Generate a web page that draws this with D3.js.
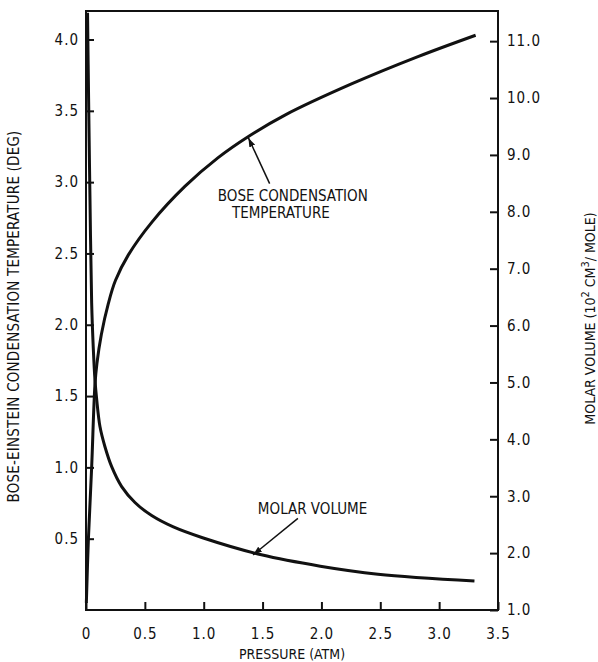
<!DOCTYPE html>
<html>
<head>
<meta charset="utf-8">
<script src="https://cdn.jsdelivr.net/npm/d3@7"></script>
<style>
  body { margin: 0; background: #fff; }
  svg { display: block; }
  text { font-family: "DejaVu Sans Condensed", "Liberation Sans Narrow", "Roboto Condensed", sans-serif; fill: #111; }
</style>
</head>
<body>
<div id="chart"></div>
<script>
// pressure (atm) vs Bose condensation temperature (deg)
var bosePressure = [0.003, 0.02, 0.048, 0.076, 0.093, 0.13, 0.19, 0.25, 0.36, 0.56, 0.84, 1.12, 1.38, 1.69, 2.26, 2.82, 3.31];
var boseTemp     = [0.05, 0.49, 1.0, 1.58, 1.73, 1.93, 2.15, 2.31, 2.49, 2.72, 2.97, 3.17, 3.32, 3.47, 3.69, 3.88, 4.03];

// pressure (atm) vs molar volume (10^2 cm^3/mole)
var volPressure = [0.013, 0.022, 0.034, 0.048, 0.062, 0.076, 0.09, 0.119, 0.161, 0.218, 0.303, 0.416, 0.558, 0.742, 0.99, 1.49, 1.99, 2.48, 3.30];
var molarVolume = [11.5, 10.0, 8.2, 6.4, 5.6, 5.05, 4.72, 4.22, 3.87, 3.52, 3.17, 2.89, 2.66, 2.46, 2.27, 1.97, 1.77, 1.63, 1.51];

var pressureTicks = [0, 0.5, 1.0, 1.5, 2.0, 2.5, 3.0, 3.5];
var tempTicks = [0.5, 1.0, 1.5, 2.0, 2.5, 3.0, 3.5, 4.0];
var volumeTicks = [1, 2, 3, 4, 5, 6, 7, 8, 9, 10, 11];

var margin = {left: 86, right: 100, top: 11, bottom: 52};
var width = 598 - margin.left - margin.right;
var height = 662 - margin.top - margin.bottom;

var svg = d3.select("#chart").append("svg")
    .attr("width", 598)
    .attr("height", 662)
  .append("g")
    .attr("transform", "translate(" + margin.left + "," + margin.top + ")");

var xScale = d3.scaleLinear().domain([0, 3.5]).range([0, width]);
var tScale = d3.scaleLinear().domain([0, 4.2]).range([height, 0]);
var vScale = d3.scaleLinear().domain([1, 11.53]).range([height, 0]);

var fmt = d3.format(".1f");

// axes, ticks point inward
var xAxis = svg.append("g")
    .attr("transform", "translate(0," + height + ")")
    .call(d3.axisBottom(xScale).tickValues(pressureTicks)
      .tickSizeInner(-8).tickSizeOuter(0).tickPadding(18)
      .tickFormat(d => d === 0 ? "0" : fmt(d)));
var lAxis = svg.append("g")
    .call(d3.axisLeft(tScale).tickValues(tempTicks)
      .tickSizeInner(-8).tickSizeOuter(0).tickPadding(7).tickFormat(fmt));
var rAxis = svg.append("g")
    .attr("transform", "translate(" + width + ",0)")
    .call(d3.axisRight(vScale).tickValues(volumeTicks)
      .tickSizeInner(-8).tickSizeOuter(0).tickPadding(9).tickFormat(fmt));

[xAxis, lAxis, rAxis].forEach(function(a){
  a.select(".domain").remove();
  a.selectAll("line").attr("stroke", "#111").attr("stroke-width", 2);
  a.selectAll("text").attr("font-size", 15).attr("fill", "#111").attr("letter-spacing", 1);
});

// frame
svg.append("rect")
    .attr("x", 0).attr("y", 0)
    .attr("width", width).attr("height", height)
    .attr("fill", "none")
    .attr("stroke", "#111")
    .attr("stroke-width", 2);

var boseData = bosePressure.map((p, i) => ({p: p, v: boseTemp[i]}));
var volData = volPressure.map((p, i) => ({p: p, v: molarVolume[i]}));

var boseLine = d3.line()
    .x(d => xScale(d.p))
    .y(d => tScale(d.v))
    .curve(d3.curveCatmullRom.alpha(0.5));
var volLine = d3.line()
    .x(d => xScale(d.p))
    .y(d => vScale(d.v))
    .curve(d3.curveCatmullRom.alpha(0.5));

svg.append("path")
    .datum(boseData)
    .attr("d", boseLine)
    .attr("fill", "none")
    .attr("stroke", "#111")
    .attr("stroke-width", 3);
svg.append("path")
    .datum(volData)
    .attr("d", volLine)
    .attr("fill", "none")
    .attr("stroke", "#111")
    .attr("stroke-width", 3);

// arrowhead
svg.append("defs").append("marker")
    .attr("id", "arrow")
    .attr("viewBox", "0 0 10 10")
    .attr("refX", 10).attr("refY", 5)
    .attr("markerWidth", 9).attr("markerHeight", 9)
    .attr("markerUnits", "userSpaceOnUse")
    .attr("orient", "auto")
  .append("path")
    .attr("d", "M0,1.5 L10,5 L0,8.5 Z")
    .attr("fill", "#111");

// annotation: bose condensation temperature
svg.append("line")
    .attr("x1", xScale(1.56)).attr("y1", tScale(2.99))
    .attr("x2", xScale(1.38)).attr("y2", tScale(3.31))
    .attr("stroke", "#111").attr("stroke-width", 1.5)
    .attr("marker-end", "url(#arrow)");
svg.append("text")
    .attr("x", xScale(1.12)).attr("y", tScale(2.87))
    .attr("font-size", 15)
    .text("BOSE CONDENSATION");
svg.append("text")
    .attr("x", xScale(1.24)).attr("y", tScale(2.75))
    .attr("font-size", 15)
    .text("TEMPERATURE");

// annotation: molar volume
svg.append("line")
    .attr("x1", xScale(1.80)).attr("y1", vScale(2.61))
    .attr("x2", xScale(1.42)).attr("y2", vScale(1.97))
    .attr("stroke", "#111").attr("stroke-width", 1.5)
    .attr("marker-end", "url(#arrow)");
svg.append("text")
    .attr("x", xScale(1.46)).attr("y", vScale(2.68))
    .attr("font-size", 15)
    .text("MOLAR VOLUME");

// axis titles
svg.append("text")
    .attr("x", xScale(1.75)).attr("y", height + 49)
    .attr("text-anchor", "middle")
    .attr("font-size", 14)
    .text("PRESSURE (ATM)");

svg.append("text")
    .attr("transform", "translate(" + (-67) + "," + (height / 2 + 6) + ") rotate(-90)")
    .attr("text-anchor", "middle")
    .attr("font-size", 15)
    .attr("letter-spacing", 0.2)
    .text("BOSE-EINSTEIN CONDENSATION TEMPERATURE (DEG)");

var rTitle = svg.append("text")
    .attr("transform", "translate(" + (width + 97) + "," + (height / 2 + 8) + ") rotate(-90)")
    .attr("text-anchor", "middle")
    .attr("font-size", 14);
rTitle.append("tspan").text("MOLAR VOLUME (10");
rTitle.append("tspan").attr("dy", -6).attr("font-size", 11).text("2");
rTitle.append("tspan").attr("dy", 6).text(" CM");
rTitle.append("tspan").attr("dy", -6).attr("font-size", 11).text("3");
rTitle.append("tspan").attr("dy", 6).text("/ MOLE)");
</script>
</body>
</html>
